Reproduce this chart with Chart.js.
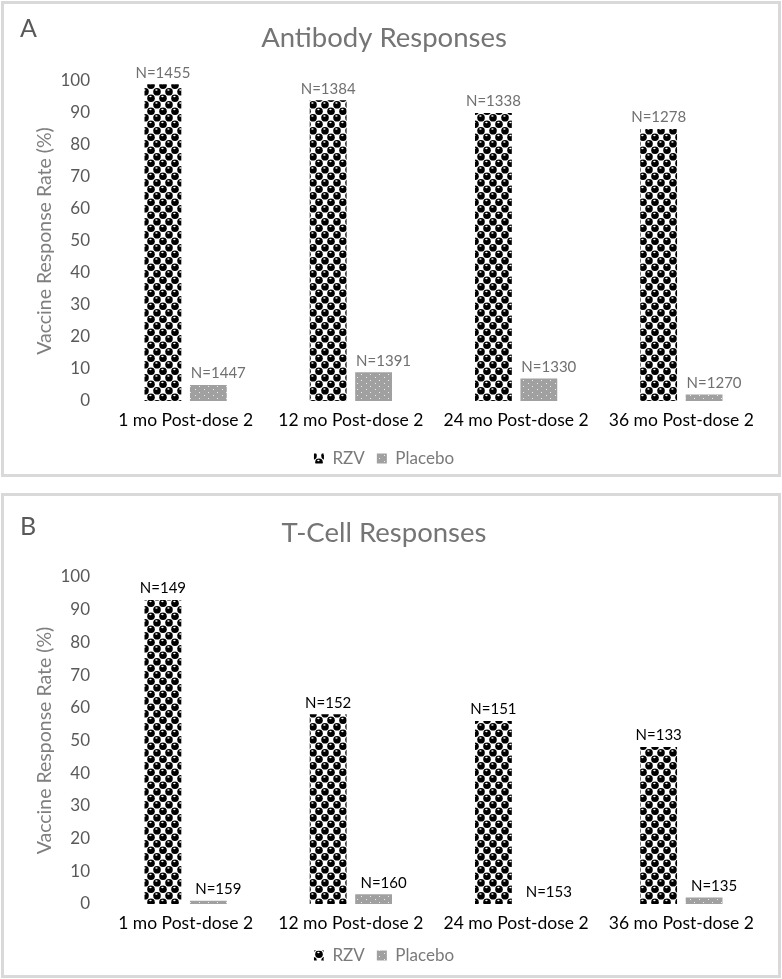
<!DOCTYPE html>
<html>
<head>
<meta charset="utf-8">
<script src="https://cdn.jsdelivr.net/npm/chart.js@4.4.1/dist/chart.umd.min.js"></script>
<style>
  html, body { margin: 0; padding: 0; background: #fff; }
  body { width: 782px; height: 979px; position: relative; overflow: hidden; font-family: Lato, "Open Sans", sans-serif; }
  .panel { position: absolute; left: 1px; width: 774px; border: 3px solid #d9d9d9; background: #fff; overflow: hidden; }
  #pA { top: 1px; height: 470px; }
  #pB { top: 493px; height: 479px; }
  .letter { position: absolute; left: 16px; top: 8px; font-size: 25px; color: #595959; font-family: Lato, sans-serif; }
  #pB .letter { top: 14px; }
  canvas { position: absolute; left: 0; top: 0; }
</style>
</head>
<body>
<div class="panel" id="pA"><canvas id="cA" width="774" height="473"></canvas><div class="letter">A</div></div>
<div class="panel" id="pB"><canvas id="cB" width="774" height="478"></canvas><div class="letter">B</div></div>
<script>
// ---- data ----
const categories = ["1 mo Post-dose 2", "12 mo Post-dose 2", "24 mo Post-dose 2", "36 mo Post-dose 2"];
const seriesNames = ["RZV", "Placebo"];
const yTicks = [0, 10, 20, 30, 40, 50, 60, 70, 80, 90, 100];

const antibodyTitle = "Antibody Responses";
const antibodyRZV = [99, 94, 90, 85];
const antibodyPlacebo = [5, 9, 7, 2];
const antibodyRZV_N = ["N=1455", "N=1384", "N=1338", "N=1278"];
const antibodyPlacebo_N = ["N=1447", "N=1391", "N=1330", "N=1270"];

const tcellTitle = "T-Cell Responses";
const tcellRZV = [93, 58, 56, 48];
const tcellPlacebo = [1, 3, 0, 2];
const tcellRZV_N = ["N=149", "N=152", "N=151", "N=133"];
const tcellPlacebo_N = ["N=159", "N=160", "N=153", "N=135"];

// ---- patterns ----
function makeRZVPattern() {
  const c = document.createElement('canvas');
  c.width = 12; c.height = 13;
  const g = c.getContext('2d');
  g.fillStyle = '#fff'; g.fillRect(0, 0, 12, 13);
  g.fillStyle = '#000';
  const pts = [[3, 3.25], [9, 9.75], [15, 3.25], [-3, 9.75], [3, 16.25], [9, -3.25], [-3, -3.25], [15, 16.25]];
  pts.forEach(([x, y]) => { g.beginPath(); g.arc(x, y, 3.8, 0, Math.PI * 2); g.fill(); });
  g.fillStyle = '#fff';
  [[3, 3.25], [9, 9.75]].forEach(([x, y]) => { g.beginPath(); g.ellipse(x - 0.6, y - 1.8, 1.2, 0.7, 0, 0, Math.PI * 2); g.fill(); });
  const ctx = document.createElement('canvas').getContext('2d');
  return ctx.createPattern(c, 'repeat');
}
function makePlaceboPattern() {
  const c = document.createElement('canvas');
  c.width = 9; c.height = 6;
  const g = c.getContext('2d');
  g.fillStyle = '#a0a0a0'; g.fillRect(0, 0, 9, 6);
  g.fillStyle = '#ececec';
  g.fillRect(2, 1, 1, 1);
  g.fillRect(6, 4, 1, 1);
  const ctx = document.createElement('canvas').getContext('2d');
  return ctx.createPattern(c, 'repeat');
}
const rzvFill = makeRZVPattern();
const placeboFill = makePlaceboPattern();

// ---- label plugin ----
const nLabels = {
  id: 'nLabels',
  afterDatasetsDraw(chart, args, opts) {
    const ctx = chart.ctx;
    ctx.save();
    ctx.font = opts.font;
    ctx.fillStyle = opts.color;
    ctx.textAlign = 'center';
    ctx.textBaseline = 'bottom';
    chart.data.datasets.forEach((ds, di) => {
      const meta = chart.getDatasetMeta(di);
      meta.data.forEach((bar, i) => {
        const dx = di === 1 ? 10 : 0;
        ctx.fillText(ds.nLabels[i], bar.x + dx, bar.y - 4);
      });
    });
    ctx.restore();
  }
};

function build(id, title, rzv, placebo, rzvN, placeboN, labelColor, lay) {
  return new Chart(document.getElementById(id), {
    type: 'bar',
    data: {
      labels: categories,
      datasets: [
        { label: seriesNames[0], data: rzv, nLabels: rzvN, backgroundColor: rzvFill, borderWidth: 0 },
        { label: seriesNames[1], data: placebo, nLabels: placeboN, backgroundColor: placeboFill, borderWidth: 0 }
      ]
    },
    options: {
      responsive: false,
      animation: false,
      devicePixelRatio: 1,
      categoryPercentage: 0.55,
      barPercentage: 0.81,
      layout: { padding: { left: 0, right: 14, top: 0, bottom: 0 } },
      plugins: {
        title: { display: true, text: title, color: '#757575', font: { family: 'Lato', size: 27.5, weight: 'normal' }, padding: { top: lay.titleTop, bottom: lay.titleBottom } },
        legend: {
          position: 'bottom',
          labels: { color: '#7a7a7a', font: { family: 'Lato', size: 17 }, boxWidth: 10, boxHeight: 10, padding: 12 }
        },
        tooltip: { enabled: false },
        nLabels: { font: '15px Lato', color: labelColor }
      },
      scales: {
        x: {
          afterFit(scale) { scale.height = lay.xHeight; },
          grid: { display: false, drawTicks: false },
          border: { display: false },
          ticks: { color: '#000', font: { family: 'Lato', size: 17.5 }, padding: 9, maxRotation: 0 }
        },
        y: {
          min: 0, max: 100,
          afterBuildTicks(scale) { scale.ticks = yTicks.map(v => ({ value: v })); },
          afterFit(scale) { scale.width = 99; },
          grid: { display: false, drawTicks: false },
          border: { display: false },
          ticks: { color: '#595959', font: { family: 'Lato', size: 17 }, padding: 13 },
          title: { display: true, text: 'Vaccine Response Rate (%)', color: '#7f7f7f', font: { family: 'Lato', size: 19.5 }, padding: { top: 29, bottom: 0 } }
        }
      }
    },
    plugins: [nLabels]
  });
}

build('cA', antibodyTitle, antibodyRZV, antibodyPlacebo, antibodyRZV_N, antibodyPlacebo_N, '#707070',
      { titleTop: 18, titleBottom: 26, xHeight: 37 });
build('cB', tcellTitle, tcellRZV, tcellPlacebo, tcellRZV_N, tcellPlacebo_N, '#000',
      { titleTop: 21, titleBottom: 27, xHeight: 31 });
</script>
</body>
</html>
